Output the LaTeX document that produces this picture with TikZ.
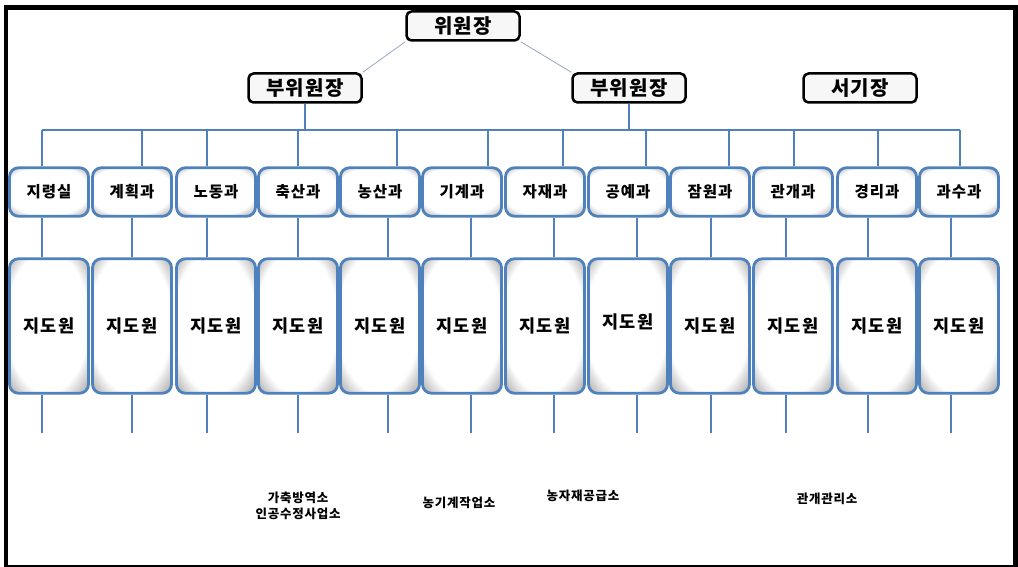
\documentclass[tikz,border=0pt]{standalone}
\usepackage{fontspec}
\setmainfont{Noto Sans CJK KR}[LetterSpace=6]
\usepackage{tikz}
\usetikzlibrary{calc}
\definecolor{org_blue}{RGB}{79,129,189}
\definecolor{link_grey}{RGB}{150,165,200}
\pgfdeclareradialshading{bevel}{\pgfpoint{-2bp}{3bp}}{color(0bp)=(white); color(26bp)=(white); color(33bp)=(black!25); color(50bp)=(black!25)}
\tikzset{ head_box/.style = {rectangle, rounded corners=5pt, draw=black, line width=2.5pt, fill=black!3, minimum width=113pt, minimum height=29pt, inner sep=0pt, font=\fontsize{20}{22}\selectfont\bfseries} }
\tikzset{ dept_box/.style = {rectangle, rounded corners=9pt, draw=org_blue, line width=2.8pt, shading=bevel, minimum width=79pt, minimum height=48.5pt, inner sep=0pt, font=\fontsize{15.5}{17}\selectfont\bfseries} }
\tikzset{ staff_box/.style = {dept_box, minimum height=134.5pt, font=\fontsize{17.5}{19}\selectfont\bfseries} }
\tikzset{ bus_line/.style = {org_blue, line width=2.8pt} }
\tikzset{ office_label/.style = {align=center, font=\fontsize{12.5}{16}\selectfont\bfseries} }

\begin{document}
\begin{tikzpicture}[x=1pt, y=-1pt]
            \useasboundingbox (0,0) rectangle (1018,567);
            \draw [line width=4.5pt] (6,7.5) rectangle (1015.5,567.5);
            % heads
            \node [head_box] (chair) at (463,26) {위원장};
            \node [head_box] (vice_l) at (305,88) {부위원장};
            \node [head_box] (vice_r) at (629,88) {부위원장};
            \node [head_box] (clerk) at (860,88) {서기장};
            \draw [link_grey, line width=0.8pt] (chair.south west) to (vice_l.north east);
            \draw [link_grey, line width=0.8pt] (chair.south east) to (vice_r.north west);
            \coordinate (bus_l) at (42,130);
            \coordinate (bus_r) at (960,130);
            \draw [bus_line] (bus_l) to (bus_r);
            \draw [org_blue, line width=1.2pt] (vice_l.south) to (vice_l.south |- bus_l);
            \draw [org_blue, line width=1.2pt] (vice_r.south) to (vice_r.south |- bus_l);
            % departments
            \foreach \i/\cx/\ux/\lx/\dname/\rs in {
                1/49/42/42/지령실/0, 2/132/142/132/계획과/0, 3/216/207/207/노동과/0,
                4/298/298/298/축산과/0, 5/380/397/388/농산과/0, 6/462/488/471/기계과/0,
                7/545/563/554/자재과/0, 8/628/646/637/공예과/9, 9/710/729/711/잠원과/0,
                10/793/794/786/관개과/0, 11/877/878/868/경리과/0, 12/959/960/951/과수과/0}
            {
                \node [dept_box] (d\i) at (\cx,192) {\dname};
                \node [staff_box] (s\i) at (\cx,326) {\raisebox{\rs pt}{지도원}};
                \coordinate (e\i) at (\lx,433);
                \draw [bus_line] (\ux,0 |- bus_l) to (\ux,0 |- d\i.north);
                \draw [bus_line] (e\i |- d\i.south) to (e\i |- s\i.north);
                \draw [bus_line] (e\i |- s\i.south) to (e\i);
            }
            % offices
            \node [office_label] (o4) at (298,506) {가축방역소\\인공수정사업소};
            \node [office_label] (o6) at (459,503) {농기계작업소};
            \node [office_label] (o7) at (583,496) {농자재공급소};
            \node [office_label] (o10) at (827,499) {관개관리소};
        \end{tikzpicture}
\end{document}
